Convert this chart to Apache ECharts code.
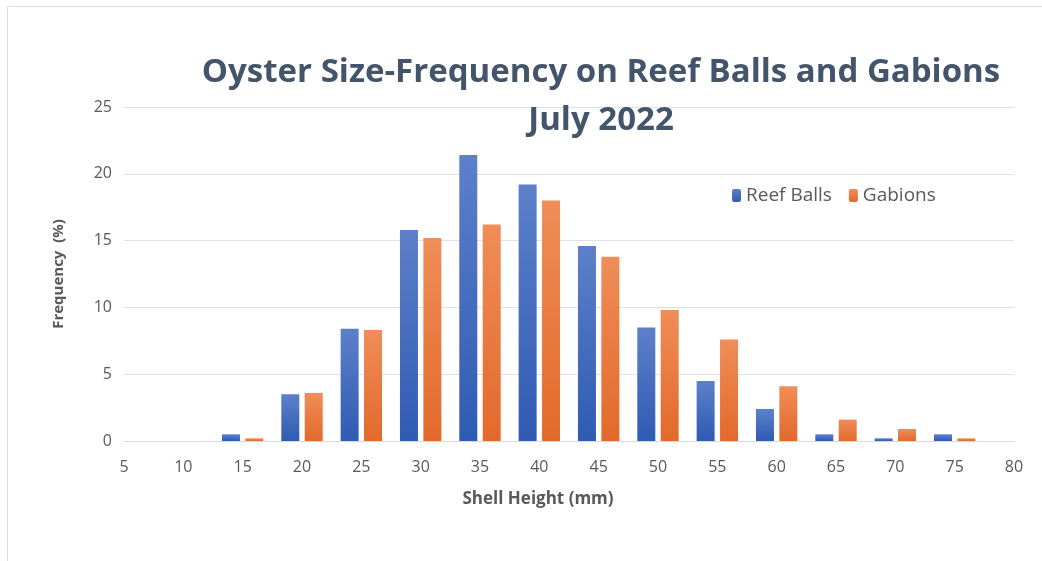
<!DOCTYPE html>
<html>
<head>
<meta charset="utf-8">
<script src="https://cdn.jsdelivr.net/npm/echarts@6/dist/echarts.min.js"></script>
<style>
  html, body { margin: 0; padding: 0; background: #fff; }
  #frame { position: absolute; left: 7px; top: 6px; width: 1100px; height: 600px; border: 1px solid #dcdde6; }
  #chart { position: absolute; left: 0; top: 0; width: 1042px; height: 561px; }
</style>
</head>
<body>
<div id="frame"></div>
<div id="chart"></div>
<script>
// shell height bins (mm)
const heights = [5, 10, 15, 20, 25, 30, 35, 40, 45, 50, 55, 60, 65, 70, 75, 80];
// frequency (%) per bin
const reefBalls = [0, 0, 0.5, 3.5, 8.4, 15.8, 21.4, 19.2, 14.6, 8.5, 4.5, 2.4, 0.5, 0.2, 0.5, 0];
const gabions = [0, 0, 0.2, 3.6, 8.3, 15.2, 16.2, 18.0, 13.8, 9.8, 7.6, 4.1, 1.6, 0.9, 0.2, 0];

const myChart = echarts.init(document.getElementById('chart'));

function grad(top, bottom) {
  return new echarts.graphic.LinearGradient(0, 0, 0, 1, [
    { offset: 0, color: top },
    { offset: 1, color: bottom }
  ]);
}

const textFont = 'Open Sans, sans-serif';

let option = {
  animation: false,
  title: {
    text: 'Oyster Size-Frequency on Reef Balls and Gabions\nJuly 2022',
    left: 596,
    top: 44,
    textAlign: 'center',
    textStyle: {
      fontFamily: textFont,
      fontSize: 33,
      fontWeight: 'bold',
      color: '#44546a',
      lineHeight: 48
    }
  },
  legend: {
    left: 727,
    top: 181,
    itemWidth: 9,
    itemHeight: 13,
    itemGap: 17,
    textStyle: { fontFamily: textFont, fontSize: 19, color: '#595959' },
    data: ['Reef Balls', 'Gabions']
  },
  grid: {
    left: 124,
    right: 28,
    top: 107,
    bottom: 120
  },
  xAxis: {
    type: 'value',
    min: 5,
    max: 80,
    interval: 5,
    name: 'Shell Height (mm)',
    nameLocation: 'center',
    nameGap: 50,
    nameTextStyle: { fontFamily: textFont, fontSize: 17, fontWeight: 'bold', color: '#595959', padding: [0, 62, 0, 0] },
    axisLine: { show: true, lineStyle: { color: '#d9d9d9' } },
    axisTick: { show: false },
    splitLine: { show: false },
    axisLabel: { fontFamily: textFont, fontSize: 16, color: '#595959', margin: 18 }
  },
  yAxis: {
    type: 'value',
    min: 0,
    max: 25,
    interval: 5,
    name: 'Frequency  (%)',
    nameLocation: 'center',
    nameGap: 58,
    nameTextStyle: { fontFamily: textFont, fontSize: 15, fontWeight: 'bold', color: '#595959' },
    axisLine: { show: false },
    axisTick: { show: false },
    splitLine: { lineStyle: { color: '#dde1ea' } },
    axisLabel: { fontFamily: textFont, fontSize: 16, color: '#595959', margin: 12 }
  },
  series: [
    {
      name: 'Reef Balls',
      type: 'bar',
      barWidth: 18,
      barGap: '30%',
      itemStyle: { color: grad('#5d80c9', '#2f5bb3') },
      data: heights.map((h, i) => [h, reefBalls[i]])
    },
    {
      name: 'Gabions',
      type: 'bar',
      barWidth: 18,
      barGap: '30%',
      itemStyle: { color: grad('#f08d58', '#e2692b') },
      data: heights.map((h, i) => [h, gabions[i]])
    }
  ],
  color: ['#4472c4', '#ed7d31']
};
myChart.setOption(option);
</script>
</body>
</html>
